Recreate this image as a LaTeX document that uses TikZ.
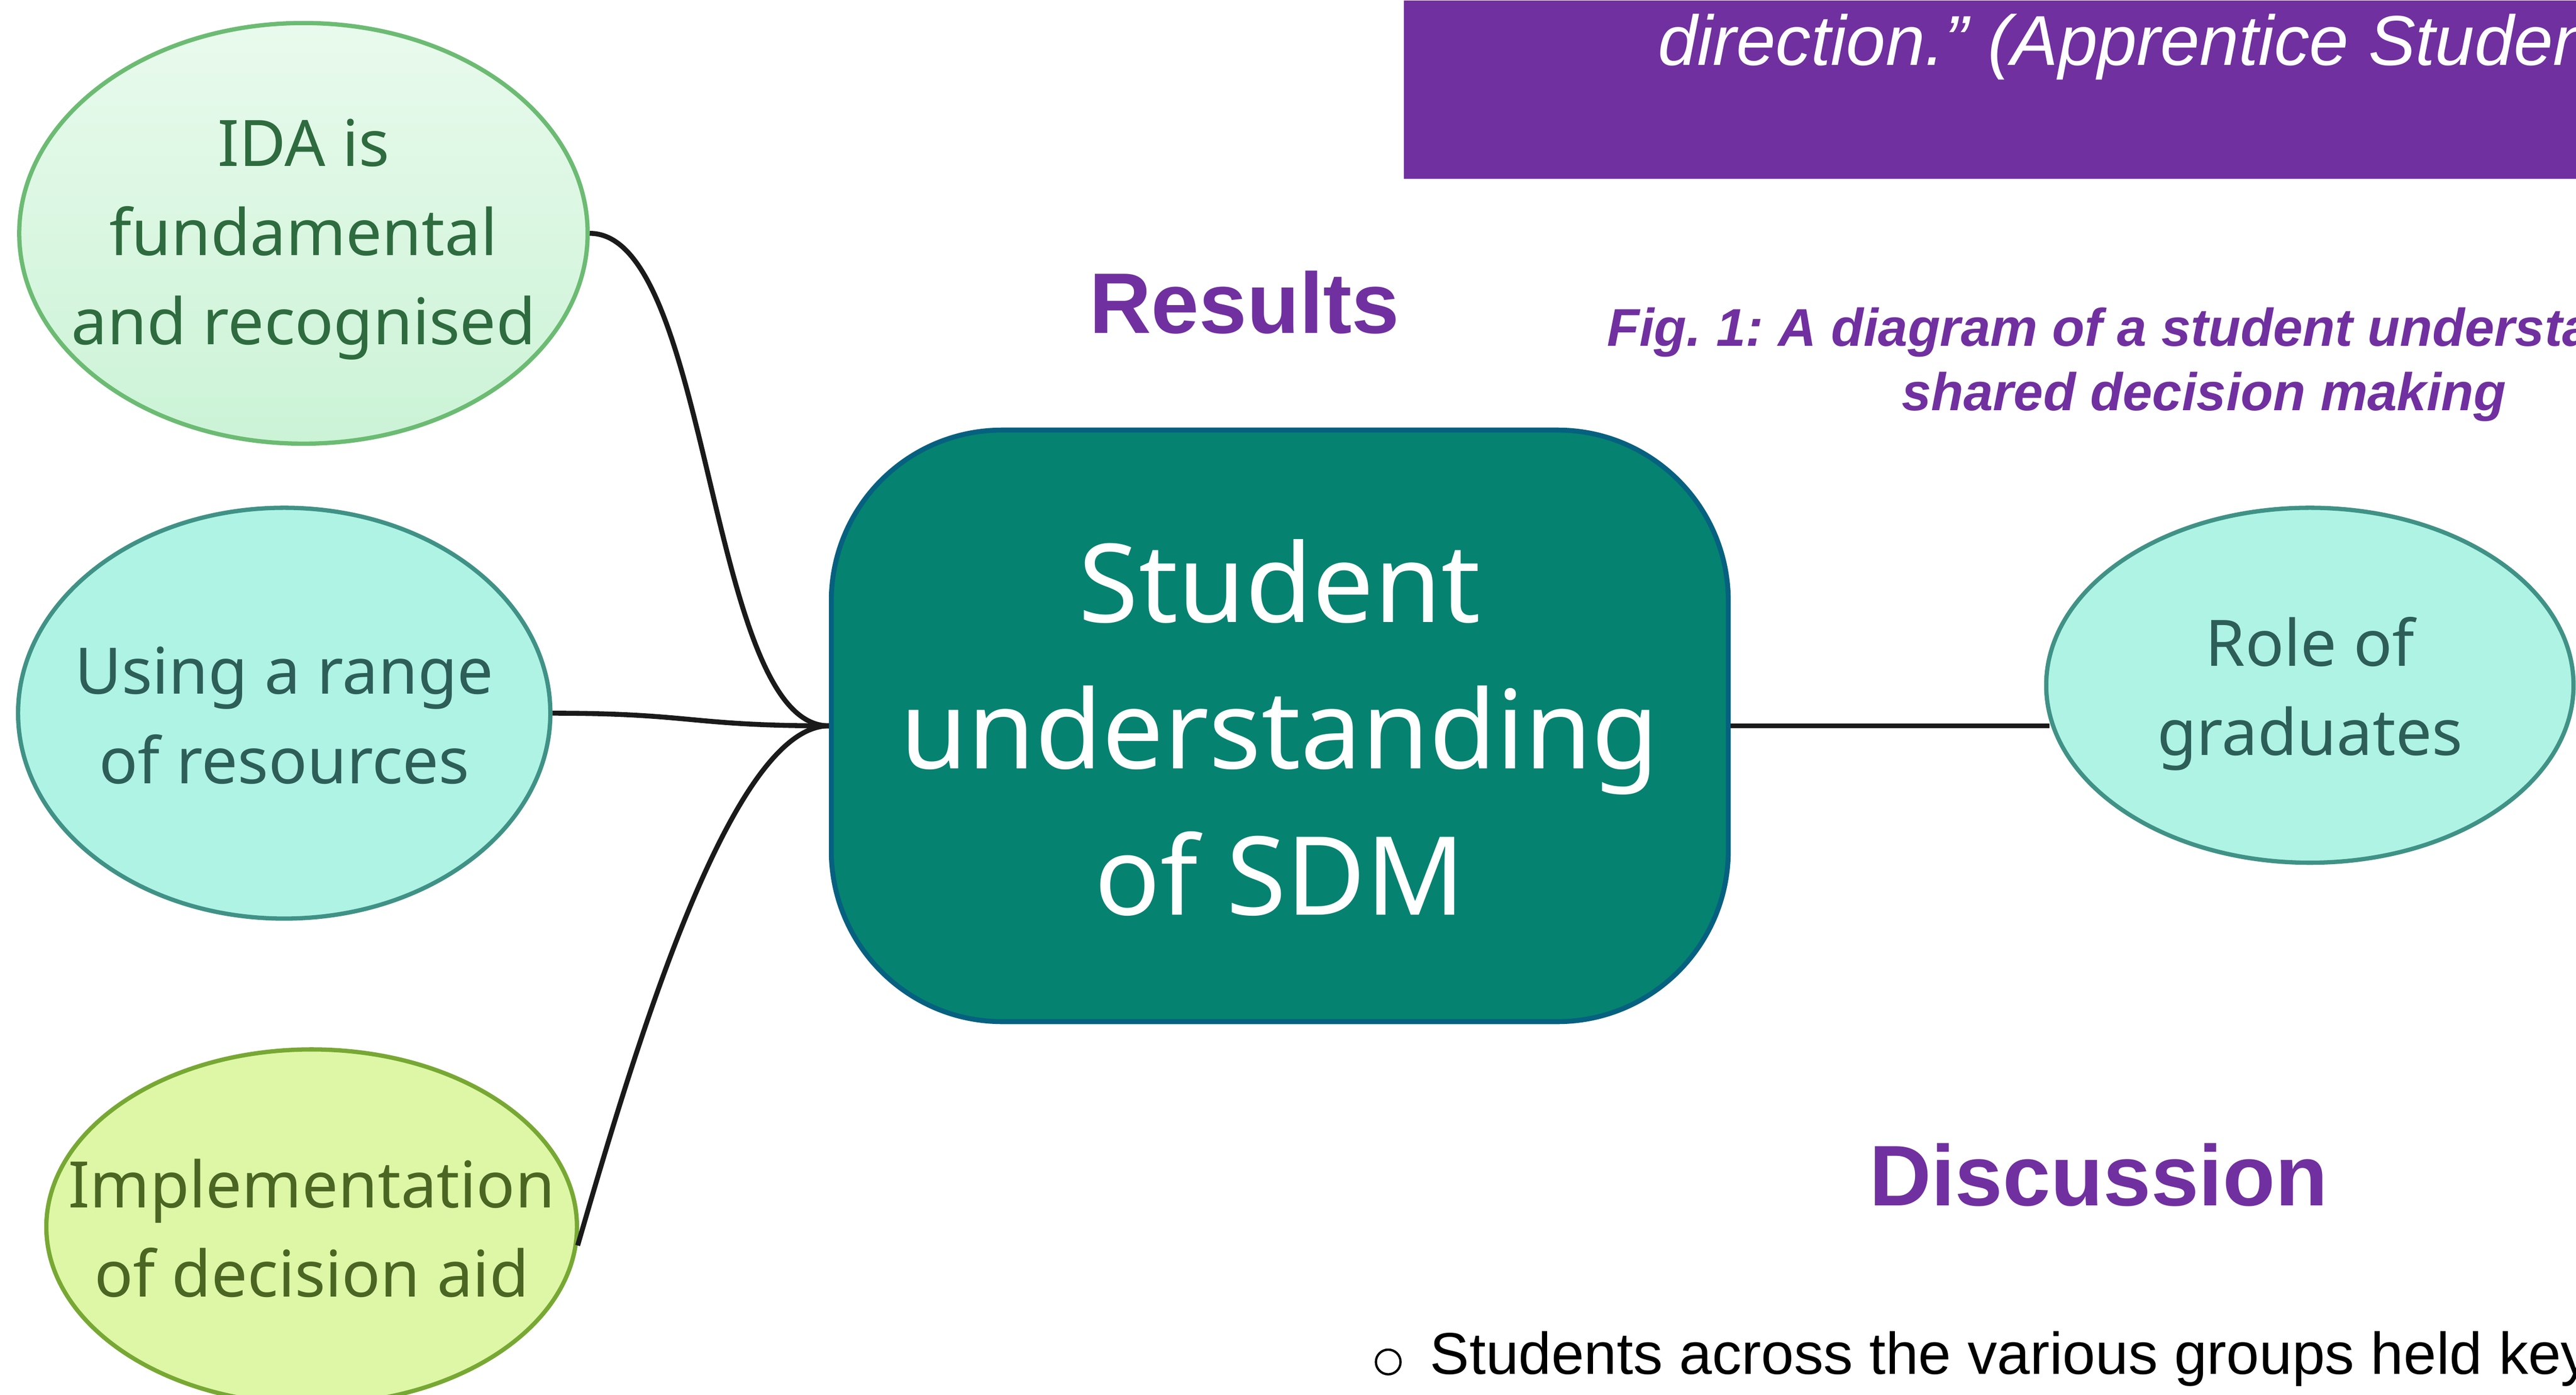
\documentclass[tikz,border=0pt]{standalone}
\usepackage{fontspec}
\setmainfont{Liberation Sans}
\newfontfamily\notofont{Noto Sans}
\usetikzlibrary{shapes.geometric}
\definecolor{posterpurple}{RGB}{112,48,160}
\definecolor{linkgray}{RGB}{26,26,26}
\definecolor{mainfill}{RGB}{5,130,112}
\definecolor{mainborder}{RGB}{6,96,128}
\definecolor{idatop}{RGB}{233,250,237}
\definecolor{idabottom}{RGB}{203,243,214}
\definecolor{idaborder}{RGB}{108,187,115}
\definecolor{idatext}{RGB}{46,107,62}
\definecolor{mintfill}{RGB}{174,243,228}
\definecolor{mintborder}{RGB}{64,146,134}
\definecolor{minttext}{RGB}{45,94,88}
\definecolor{limefill}{RGB}{221,247,166}
\definecolor{limeborder}{RGB}{120,168,52}
\definecolor{limetext}{RGB}{74,102,34}
\newcommand\nodelines[1]{\makebox[0pt]{\begin{tabular}[t]{@{}c@{}}#1\end{tabular}}}
\frenchspacing
\begin{document}
\begin{tikzpicture}[x=1pt,y=-1pt,
  bubble/.style={ellipse, inner sep=0pt, line width=2.6pt, text height=0pt, text depth=23.2pt,
    font=\notofont\fontsize{39}{54.3}\selectfont},
  centralbox/.style={rectangle, rounded corners=104pt, inner sep=0pt, minimum width=546pt,
    minimum height=360pt, fill=mainfill, draw=mainborder, line width=3pt, text=white,
    text height=0pt, text depth=126pt, font=\notofont\fontsize{66.4}{89}\selectfont},
  link/.style={draw=linkgray, line width=3pt},
  heading/.style={anchor=base, inner sep=0pt, text=posterpurple,
    font=\bfseries\fontsize{52.3}{60}\selectfont}]
\useasboundingbox (0,0) rectangle (1568,848.7);
\clip (0,0) rectangle (1568,848.7);

% banner
\node[fill=posterpurple, inner sep=0pt, minimum width=714pt, minimum height=108.7pt,
  anchor=north west] (banner) at (854.2,0) {};
\node[anchor=base west, inner sep=0pt, text=white, font=\itshape\fontsize{43}{50}\selectfont]
  (quote) at (1009,39.8) {direction.” (Apprentice Student)};

% headings and caption
\node[heading] (results) at (757.5,202.7) {Results};
\node[heading] (discussion) at (1277.3,733.5) {Discussion};
\node[anchor=base, inner sep=0pt, text=posterpurple,
  font=\bfseries\itshape\fontsize{32.3}{39.3}\selectfont] (caption) at (1341.6,210.6)
  {\begin{tabular}[t]{@{}c@{}}Fig. 1: A diagram of a student understanding of\\shared decision making\end{tabular}};
\node[circle, draw=black, line width=1.4pt, inner sep=0pt, minimum size=15pt] (bulletmark) at (845,828.8) {};
\node[anchor=base west, inner sep=0pt, font=\fontsize{35.9}{40}\selectfont] (bullet) at (870.3,836.3)
  {Students across the various groups held key};

% central node
\node[centralbox] (main) at (779,441.7) {\nodelines{Student\\understanding\\of SDM}};

% bubbles
\node[bubble, minimum width=346pt, minimum height=256pt, top color=idatop, bottom color=idabottom,
  draw=idaborder, text=idatext, text depth=82pt] (ida) at (184.7,142)
  {\nodelines{IDA is\\fundamental\\and recognised}};
\node[bubble, minimum width=324pt, minimum height=250pt, fill=mintfill, draw=mintborder,
  text=minttext] (range) at (173,434) {\nodelines{Using a range\\of resources}};
\node[bubble, minimum width=323pt, minimum height=216pt, fill=limefill, draw=limeborder,
  text=limetext] (impl) at (189.7,746.6) {\nodelines{Implementation\\of decision aid}};
\node[bubble, minimum width=321pt, minimum height=216pt, fill=mintfill, draw=mintborder,
  text=minttext] (role) at (1406,417) {\nodelines{Role of\\graduates}};

% connectors
\draw[link] (ida.east) .. controls +(74,0) and +(-74,0) .. (main.west);
\draw[link] (range.east) .. controls +(85,0) and +(-85,0) .. (main.west);
\draw[link] (impl.356.3) .. controls +(34,-117) and +(-60,0) .. (main.west);
\draw[link] (main.east) -- (main.east -| role.188.7);
\end{tikzpicture}
\end{document}
